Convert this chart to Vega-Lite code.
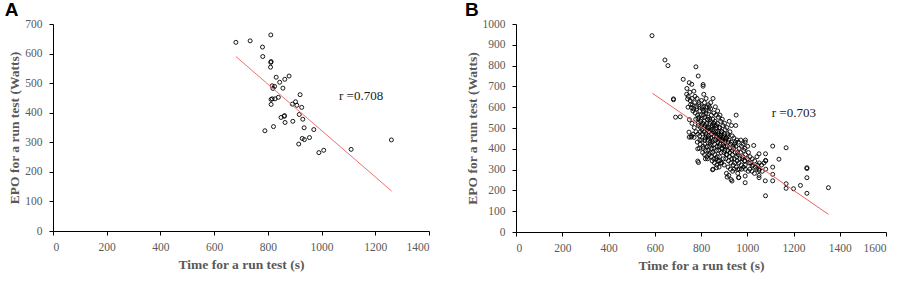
{
  "$schema": "https://vega.github.io/schema/vega-lite/v6.json",
  "background": "white",
  "padding": {"left": 4, "top": 1, "right": 5, "bottom": 2},
  "spacing": 35,
  "config": {
    "view": {"stroke": null},
    "axis": {
      "grid": false,
      "domainColor": "black",
      "tickColor": "black",
      "tickSize": 4,
      "labelColor": "#595959",
      "labelFont": "Liberation Serif",
      "labelFontSize": 11.5,
      "titleFont": "Liberation Serif",
      "titleFontWeight": "bold",
      "titleColor": "#595959",
      "titleFontSize": 13.5,
      "format": "d"
    },
    "axisX": {"labelPadding": 6, "titlePadding": 5},
    "axisY": {"labelPadding": 7, "titlePadding": 3},
    "title": {"font": "Liberation Sans", "fontSize": 19, "fontWeight": "bold", "color": "black", "anchor": "start", "frame": "bounds", "offset": -2}
  },
  "datasets": {
    "a": [
      {"t": 681, "e": 638}, {"t": 734, "e": 643}, {"t": 811, "e": 663}, {"t": 780, "e": 622}, {"t": 781, "e": 590},
      {"t": 812, "e": 573}, {"t": 811, "e": 570}, {"t": 810, "e": 554}, {"t": 831, "e": 520}, {"t": 879, "e": 524},
      {"t": 863, "e": 513}, {"t": 844, "e": 503}, {"t": 816, "e": 491}, {"t": 825, "e": 489}, {"t": 856, "e": 483},
      {"t": 819, "e": 482}, {"t": 839, "e": 452}, {"t": 827, "e": 447}, {"t": 816, "e": 447}, {"t": 812, "e": 445},
      {"t": 812, "e": 428}, {"t": 920, "e": 461}, {"t": 903, "e": 437}, {"t": 891, "e": 429}, {"t": 908, "e": 425},
      {"t": 926, "e": 418}, {"t": 917, "e": 394}, {"t": 930, "e": 378}, {"t": 861, "e": 388}, {"t": 849, "e": 384},
      {"t": 864, "e": 367}, {"t": 893, "e": 371}, {"t": 821, "e": 353}, {"t": 789, "e": 339}, {"t": 935, "e": 349},
      {"t": 971, "e": 343}, {"t": 955, "e": 316}, {"t": 928, "e": 313}, {"t": 936, "e": 309}, {"t": 915, "e": 294},
      {"t": 990, "e": 265}, {"t": 1008, "e": 273}, {"t": 1110, "e": 276}, {"t": 1260, "e": 308}, {"t": 862, "e": 390}
    ],
    "b": [
      {"t": 588, "e": 944}, {"t": 644, "e": 827}, {"t": 657, "e": 800}, {"t": 778, "e": 794}, {"t": 788, "e": 750},
      {"t": 723, "e": 734}, {"t": 749, "e": 718}, {"t": 760, "e": 710}, {"t": 809, "e": 709}, {"t": 809, "e": 701},
      {"t": 739, "e": 690}, {"t": 769, "e": 677}, {"t": 681, "e": 640}, {"t": 681, "e": 636}, {"t": 690, "e": 552}, {"t": 710, "e": 554},
      {"t": 749, "e": 456}, {"t": 760, "e": 461}, {"t": 786, "e": 400}, {"t": 786, "e": 341}, {"t": 789, "e": 334},
      {"t": 819, "e": 352}, {"t": 850, "e": 299}, {"t": 867, "e": 309}, {"t": 881, "e": 342}, {"t": 913, "e": 264},
      {"t": 934, "e": 245}, {"t": 963, "e": 261}, {"t": 991, "e": 269}, {"t": 991, "e": 237}, {"t": 1028, "e": 416},
      {"t": 1051, "e": 376}, {"t": 1079, "e": 376}, {"t": 1110, "e": 413}, {"t": 1137, "e": 350}, {"t": 1168, "e": 405},
      {"t": 1079, "e": 344}, {"t": 1110, "e": 312}, {"t": 1110, "e": 277}, {"t": 1078, "e": 246}, {"t": 1110, "e": 246},
      {"t": 1079, "e": 174}, {"t": 1168, "e": 232}, {"t": 1168, "e": 210}, {"t": 1200, "e": 208}, {"t": 1230, "e": 224},
      {"t": 1258, "e": 309}, {"t": 1258, "e": 305}, {"t": 1258, "e": 261}, {"t": 1258, "e": 186}, {"t": 1351, "e": 213}, {"t": 1051, "e": 296},
      {"t": 1051, "e": 261}, {"t": 1021, "e": 317}, {"t": 959, "e": 301},
      {"t": 742, "e": 640}, {"t": 745, "e": 652}, {"t": 738, "e": 662}, {"t": 748, "e": 480}, {"t": 744, "e": 600},
      {"t": 752, "e": 672}, {"t": 755, "e": 612}, {"t": 750, "e": 540}, {"t": 757, "e": 456}, {"t": 753, "e": 632}, {"t": 759, "e": 598},
      {"t": 762, "e": 642}, {"t": 765, "e": 582}, {"t": 768, "e": 592}, {"t": 761, "e": 522}, {"t": 766, "e": 470}, {"t": 763, "e": 612},
      {"t": 772, "e": 622}, {"t": 775, "e": 572}, {"t": 771, "e": 502}, {"t": 778, "e": 482}, {"t": 774, "e": 652}, {"t": 777, "e": 542}, {"t": 770, "e": 455},
      {"t": 782, "e": 602}, {"t": 785, "e": 562}, {"t": 788, "e": 522}, {"t": 781, "e": 592}, {"t": 786, "e": 470}, {"t": 784, "e": 432}, {"t": 789, "e": 512}, {"t": 783, "e": 642}, {"t": 787, "e": 545},
      {"t": 792, "e": 622}, {"t": 795, "e": 582}, {"t": 791, "e": 552}, {"t": 798, "e": 502}, {"t": 794, "e": 462}, {"t": 796, "e": 422}, {"t": 793, "e": 402}, {"t": 799, "e": 532}, {"t": 790, "e": 612}, {"t": 797, "e": 482}, {"t": 795, "e": 442},
      {"t": 802, "e": 632}, {"t": 805, "e": 602}, {"t": 801, "e": 562}, {"t": 808, "e": 522}, {"t": 804, "e": 492}, {"t": 806, "e": 472}, {"t": 803, "e": 442}, {"t": 809, "e": 412}, {"t": 807, "e": 382}, {"t": 800, "e": 542}, {"t": 805, "e": 592}, {"t": 802, "e": 512},
      {"t": 812, "e": 662}, {"t": 815, "e": 622}, {"t": 811, "e": 582}, {"t": 818, "e": 552}, {"t": 814, "e": 532}, {"t": 816, "e": 502}, {"t": 813, "e": 482}, {"t": 819, "e": 452}, {"t": 817, "e": 422}, {"t": 810, "e": 402}, {"t": 815, "e": 372}, {"t": 812, "e": 602}, {"t": 818, "e": 512}, {"t": 811, "e": 562}, {"t": 816, "e": 442},
      {"t": 822, "e": 642}, {"t": 825, "e": 602}, {"t": 821, "e": 572}, {"t": 828, "e": 542}, {"t": 824, "e": 522}, {"t": 826, "e": 492}, {"t": 823, "e": 462}, {"t": 829, "e": 442}, {"t": 827, "e": 412}, {"t": 820, "e": 392}, {"t": 825, "e": 362}, {"t": 828, "e": 352}, {"t": 822, "e": 582}, {"t": 826, "e": 502}, {"t": 821, "e": 472},
      {"t": 832, "e": 612}, {"t": 835, "e": 582}, {"t": 831, "e": 552}, {"t": 838, "e": 522}, {"t": 834, "e": 502}, {"t": 836, "e": 482}, {"t": 833, "e": 452}, {"t": 839, "e": 432}, {"t": 837, "e": 412}, {"t": 830, "e": 392}, {"t": 835, "e": 372}, {"t": 838, "e": 542}, {"t": 832, "e": 462}, {"t": 836, "e": 602},
      {"t": 842, "e": 592}, {"t": 845, "e": 562}, {"t": 841, "e": 532}, {"t": 848, "e": 512}, {"t": 844, "e": 492}, {"t": 846, "e": 472}, {"t": 843, "e": 452}, {"t": 849, "e": 432}, {"t": 847, "e": 402}, {"t": 840, "e": 382}, {"t": 845, "e": 362}, {"t": 848, "e": 342}, {"t": 842, "e": 622}, {"t": 846, "e": 502}, {"t": 841, "e": 422},
      {"t": 852, "e": 642}, {"t": 855, "e": 572}, {"t": 851, "e": 542}, {"t": 858, "e": 512}, {"t": 854, "e": 482}, {"t": 856, "e": 462}, {"t": 853, "e": 442}, {"t": 859, "e": 422}, {"t": 857, "e": 402}, {"t": 850, "e": 382}, {"t": 855, "e": 352}, {"t": 858, "e": 332}, {"t": 852, "e": 302}, {"t": 856, "e": 522}, {"t": 851, "e": 492},
      {"t": 862, "e": 602}, {"t": 865, "e": 562}, {"t": 861, "e": 532}, {"t": 868, "e": 502}, {"t": 864, "e": 482}, {"t": 866, "e": 462}, {"t": 863, "e": 442}, {"t": 869, "e": 412}, {"t": 867, "e": 392}, {"t": 860, "e": 372}, {"t": 865, "e": 352}, {"t": 868, "e": 322}, {"t": 862, "e": 472}, {"t": 866, "e": 512},
      {"t": 872, "e": 582}, {"t": 875, "e": 552}, {"t": 871, "e": 522}, {"t": 878, "e": 502}, {"t": 874, "e": 472}, {"t": 876, "e": 452}, {"t": 873, "e": 432}, {"t": 879, "e": 412}, {"t": 877, "e": 392}, {"t": 870, "e": 362}, {"t": 875, "e": 342}, {"t": 878, "e": 312}, {"t": 872, "e": 482}, {"t": 876, "e": 442},
      {"t": 882, "e": 562}, {"t": 885, "e": 532}, {"t": 881, "e": 502}, {"t": 888, "e": 482}, {"t": 884, "e": 462}, {"t": 886, "e": 442}, {"t": 883, "e": 422}, {"t": 889, "e": 402}, {"t": 887, "e": 382}, {"t": 880, "e": 362}, {"t": 885, "e": 332}, {"t": 888, "e": 472}, {"t": 882, "e": 452},
      {"t": 892, "e": 542}, {"t": 895, "e": 512}, {"t": 891, "e": 482}, {"t": 898, "e": 462}, {"t": 894, "e": 442}, {"t": 896, "e": 422}, {"t": 893, "e": 402}, {"t": 899, "e": 382}, {"t": 897, "e": 352}, {"t": 890, "e": 332}, {"t": 895, "e": 452}, {"t": 898, "e": 412},
      {"t": 902, "e": 522}, {"t": 905, "e": 492}, {"t": 901, "e": 472}, {"t": 908, "e": 452}, {"t": 904, "e": 432}, {"t": 906, "e": 412}, {"t": 903, "e": 392}, {"t": 909, "e": 372}, {"t": 907, "e": 352}, {"t": 900, "e": 322}, {"t": 905, "e": 442},
      {"t": 912, "e": 502}, {"t": 915, "e": 472}, {"t": 911, "e": 452}, {"t": 918, "e": 432}, {"t": 914, "e": 412}, {"t": 916, "e": 392}, {"t": 913, "e": 372}, {"t": 919, "e": 342}, {"t": 917, "e": 312}, {"t": 910, "e": 282}, {"t": 915, "e": 462},
      {"t": 922, "e": 532}, {"t": 925, "e": 482}, {"t": 921, "e": 442}, {"t": 928, "e": 422}, {"t": 924, "e": 402}, {"t": 926, "e": 382}, {"t": 923, "e": 362}, {"t": 929, "e": 332}, {"t": 927, "e": 302}, {"t": 920, "e": 272},
      {"t": 932, "e": 512}, {"t": 935, "e": 462}, {"t": 931, "e": 432}, {"t": 938, "e": 412}, {"t": 934, "e": 392}, {"t": 936, "e": 372}, {"t": 933, "e": 352}, {"t": 939, "e": 322}, {"t": 937, "e": 292}, {"t": 930, "e": 252},
      {"t": 942, "e": 452}, {"t": 945, "e": 422}, {"t": 941, "e": 402}, {"t": 948, "e": 382}, {"t": 944, "e": 352}, {"t": 946, "e": 332}, {"t": 943, "e": 302}, {"t": 949, "e": 432},
      {"t": 952, "e": 562}, {"t": 955, "e": 442}, {"t": 951, "e": 412}, {"t": 958, "e": 382}, {"t": 954, "e": 362}, {"t": 956, "e": 342}, {"t": 953, "e": 312}, {"t": 959, "e": 282}, {"t": 950, "e": 512},
      {"t": 962, "e": 432}, {"t": 965, "e": 402}, {"t": 961, "e": 372}, {"t": 968, "e": 352}, {"t": 964, "e": 332}, {"t": 966, "e": 302}, {"t": 963, "e": 262},
      {"t": 972, "e": 442}, {"t": 975, "e": 412}, {"t": 971, "e": 382}, {"t": 978, "e": 352}, {"t": 974, "e": 322}, {"t": 976, "e": 302},
      {"t": 982, "e": 422}, {"t": 985, "e": 392}, {"t": 981, "e": 362}, {"t": 988, "e": 342}, {"t": 984, "e": 312},
      {"t": 992, "e": 442}, {"t": 991, "e": 432}, {"t": 990, "e": 402}, {"t": 992, "e": 372}, {"t": 990, "e": 342}, {"t": 991, "e": 322}, {"t": 992, "e": 302},
      {"t": 1002, "e": 412}, {"t": 1005, "e": 382}, {"t": 1001, "e": 352}, {"t": 1008, "e": 332}, {"t": 1004, "e": 292},
      {"t": 1012, "e": 362}, {"t": 1015, "e": 332}, {"t": 1011, "e": 302},
      {"t": 1022, "e": 352}, {"t": 1025, "e": 322}, {"t": 1021, "e": 292},
      {"t": 1032, "e": 342}, {"t": 1035, "e": 312}, {"t": 1031, "e": 282},
      {"t": 1042, "e": 362}, {"t": 1045, "e": 322}, {"t": 1041, "e": 302},
      {"t": 1052, "e": 332}, {"t": 1050, "e": 302}, {"t": 1051, "e": 272},
      {"t": 1062, "e": 322}, {"t": 1065, "e": 292}, {"t": 1072, "e": 332}, {"t": 1080, "e": 342}, {"t": 1080, "e": 302}
    ]
  },
  "hconcat": [
    {
      "width": 376,
      "height": 207,
      "title": {"text": "A", "dx": -3},
      "encoding": {
        "x": {"field": "t", "type": "quantitative", "scale": {"domain": [0, 1400], "nice": false}, "axis": {"title": "Time for a run test (s)", "values": [0, 200, 400, 600, 800, 1000, 1200, 1400]}},
        "y": {"field": "e", "type": "quantitative", "scale": {"domain": [0, 700], "nice": false}, "axis": {"title": "EPO for a run test (Watts)", "values": [0, 100, 200, 300, 400, 500, 600, 700]}}
      },
      "layer": [
        {"data": {"name": "a"}, "mark": {"type": "point", "shape": "circle", "filled": false, "color": "black", "size": 16, "strokeWidth": 0.9, "opacity": 1}},
        {"data": {"values": [{"t": 681, "e": 590}, {"t": 1261, "e": 135}]}, "mark": {"type": "line", "color": "#f07070", "strokeWidth": 1}},
        {"data": {"values": [{"t": 1065, "e": 457, "label": "r =0.708"}]}, "mark": {"type": "text", "align": "left", "baseline": "middle", "font": "Liberation Serif", "fontSize": 13, "color": "#1a1a1a"}, "encoding": {"text": {"field": "label"}}}
      ]
    },
    {
      "width": 370,
      "height": 208,
      "title": {"text": "B", "dx": 0},
      "encoding": {
        "x": {"field": "t", "type": "quantitative", "scale": {"domain": [0, 1600], "nice": false}, "axis": {"title": "Time for a run test (s)", "values": [0, 200, 400, 600, 800, 1000, 1200, 1400, 1600]}},
        "y": {"field": "e", "type": "quantitative", "scale": {"domain": [0, 1000], "nice": false}, "axis": {"title": "EPO for a run test (Watts)", "values": [0, 100, 200, 300, 400, 500, 600, 700, 800, 900, 1000]}}
      },
      "layer": [
        {"data": {"name": "b"}, "mark": {"type": "point", "shape": "circle", "filled": false, "color": "black", "size": 16, "strokeWidth": 0.9, "opacity": 1}},
        {"data": {"values": [{"t": 590, "e": 667}, {"t": 1351, "e": 85}]}, "mark": {"type": "line", "color": "#f06060", "strokeWidth": 1}},
        {"data": {"values": [{"t": 1106, "e": 573, "label": "r =0.703"}]}, "mark": {"type": "text", "align": "left", "baseline": "middle", "font": "Liberation Serif", "fontSize": 13, "color": "#1a1a1a"}, "encoding": {"text": {"field": "label"}}}
      ]
    }
  ]
}
